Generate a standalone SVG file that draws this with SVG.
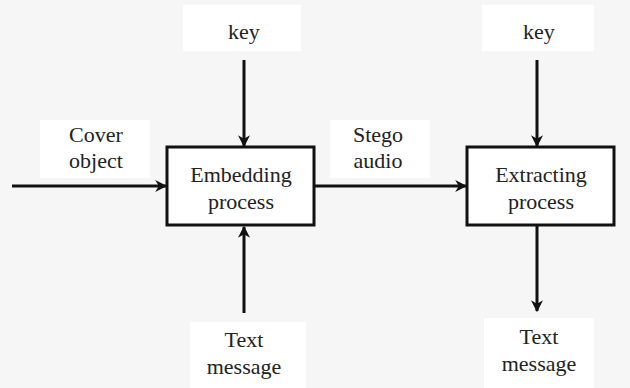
<svg xmlns="http://www.w3.org/2000/svg" width="630" height="388" viewBox="0 0 630 388">
<style>
.t{font-family:'Liberation Serif','Tinos','DejaVu Serif','Noto Serif',serif;font-size:22px;fill:#222;text-anchor:middle}
.box{fill:#fff;stroke:#111;stroke-width:3}
.lbl{fill:#fff}
.c{stroke:#111;stroke-width:3;fill:none;marker-end:url(#ah)}
</style>
<defs>
<marker id="ah" viewBox="0 0 10 10" refX="9" refY="5" markerWidth="4" markerHeight="4" orient="auto" markerUnits="strokeWidth">
<path d="M0,0 L10,5 L0,10 L3,5 Z" fill="#111"/>
</marker>
</defs>
<rect width="630" height="388" fill="#f6f6f6"/>
<g id="key1"><rect class="lbl" x="183" y="5" width="118" height="46"/><text class="t" x="244" y="39">key</text></g>
<g id="key2"><rect class="lbl" x="482" y="5" width="112" height="46"/><text class="t" x="539" y="39">key</text></g>
<g id="cover"><rect class="lbl" x="40" y="120" width="110" height="58"/><text class="t" x="96" y="142">Cover</text><text class="t" x="96" y="168">object</text></g>
<g id="stego"><rect class="lbl" x="330" y="120" width="100" height="58"/><text class="t" x="378" y="142">Stego</text><text class="t" x="378" y="168">audio</text></g>
<g id="embed"><rect class="box" x="167" y="147" width="147" height="78"/><text class="t" x="241" y="182">Embedding</text><text class="t" x="241" y="209">process</text></g>
<g id="extract"><rect class="box" x="467" y="147" width="147" height="78"/><text class="t" x="541" y="182">Extracting</text><text class="t" x="541" y="209">process</text></g>
<g id="text1"><rect class="lbl" x="190" y="322" width="116" height="66"/><text class="t" x="244" y="347">Text</text><text class="t" x="244" y="374">message</text></g>
<g id="text2"><rect class="lbl" x="484" y="318" width="110" height="70"/><text class="t" x="539" y="344">Text</text><text class="t" x="539" y="371">message</text></g>
<g id="connectors">
<line class="c" x1="12" y1="186" x2="166" y2="186"/>
<line class="c" x1="315" y1="186" x2="466" y2="186"/>
<line class="c" x1="244" y1="60" x2="244" y2="146"/>
<line class="c" x1="537" y1="60" x2="537" y2="146"/>
<line class="c" x1="244" y1="313" x2="244" y2="227"/>
<line class="c" x1="537" y1="226" x2="537" y2="311"/>
</g>
</svg>
